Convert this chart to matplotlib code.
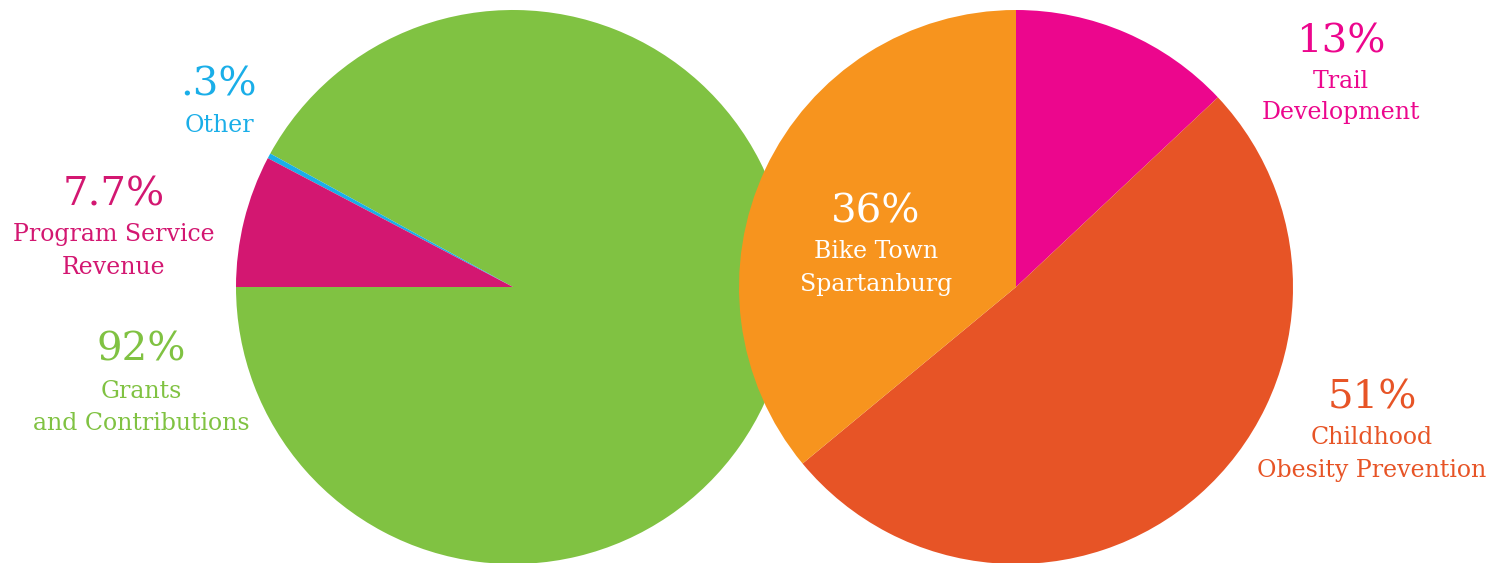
import matplotlib.pyplot as plt

# left pie: revenue
rev_labels = ['Grants\nand Contributions', 'Other', 'Program Service\nRevenue']
rev_pcts = ['92%', '.3%', '7.7%']
rev_values = [92, 0.3, 7.7]
rev_colors = ['#80c242', '#1aaee8', '#d31771']

# right pie: expenses
exp_labels = ['Trail\nDevelopment', 'Childhood\nObesity Prevention', 'Bike Town\nSpartanburg']
exp_pcts = ['13%', '51%', '36%']
exp_values = [13, 51, 36]
exp_colors = ['#ec068d', '#e75426', '#f7941e']

W, H = 1506, 563
fig = plt.figure(figsize=(W / 100, H / 100), dpi=100)
ax = fig.add_axes([0, 0, 1, 1])
ax.set_aspect('equal')
ax.axis('off')

R = 277
ax.pie(rev_values, colors=rev_colors, startangle=180, counterclock=True,
       center=(513, H - 287), radius=R, wedgeprops=dict(linewidth=0))
ax.pie(exp_values, colors=exp_colors, startangle=90, counterclock=False,
       center=(1016, H - 287), radius=R, wedgeprops=dict(linewidth=0))
ax.set_xlim(0, W)
ax.set_ylim(0, H)

font = 'DejaVu Serif'


def label(x, y_pct, y_lab, pct, lab, color):
    ax.text(x, H - y_pct, pct, color=color, fontsize=29, family=font,
            ha='center', va='center')
    ax.text(x, H - y_lab, lab, color=color, fontsize=17, family=font,
            ha='center', va='center', linespacing=1.5)


# label positions in pixels from top
label(219, 85, 126, rev_pcts[1], rev_labels[1], rev_colors[1])
label(114, 195, 251, rev_pcts[2], rev_labels[2], rev_colors[2])
label(141, 350, 407, rev_pcts[0], rev_labels[0], rev_colors[0])
label(876, 212, 268, exp_pcts[2], exp_labels[2], 'white')
label(1341, 42, 97, exp_pcts[0], exp_labels[0], exp_colors[0])
label(1372, 398, 454, exp_pcts[1], exp_labels[1], exp_colors[1])

fig.savefig('out.png', dpi=100)
